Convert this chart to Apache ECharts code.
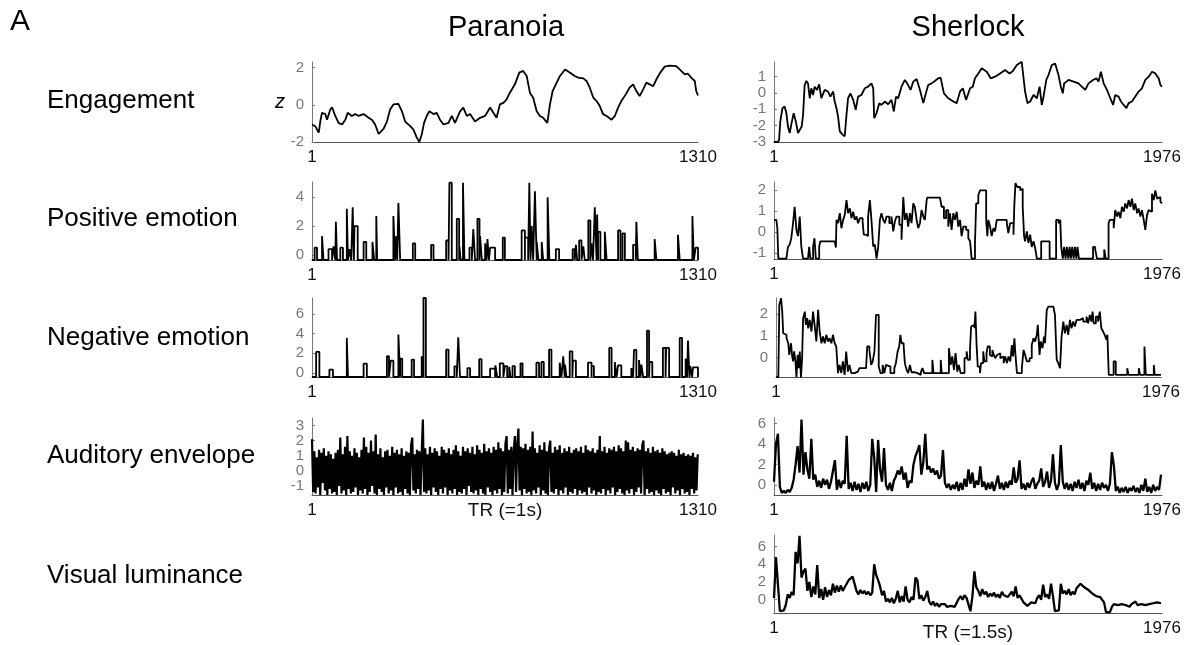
<!DOCTYPE html>
<html>
<head>
<meta charset="utf-8">
<script src="https://cdn.jsdelivr.net/npm/echarts@6/dist/echarts.min.js"></script>
<style>
  html, body { margin: 0; background: #fff; }
  #main { width: 1185px; height: 645px; }
</style>
</head>
<body>
<div id="main"></div>
<script>
// ---- data (TR index, z value) ----
const parN = 1310;
const sheN = 1976;

const parEngagement = [[1,-1.06],[12,-1.15],[24,-1.5],[29,-0.9],[35,-0.43],[46,-0.5],[52,-0.8],[63,-0.25],[69,-0.13],[80,-0.6],[91,-0.97],[103,-1.06],[114,-0.8],[122,-0.43],[136,-0.6],[148,-0.5],[159,-0.6],[176,-0.5],[193,-0.7],[204,-0.8],[215,-1.06],[227,-1.57],[244,-1.28],[255,-0.9],[266,-0.25],[277,0.02],[294,0.05],[306,-0.35],[317,-0.9],[334,-1.15],[345,-1.33],[356,-1.75],[365,-2.0],[373,-1.6],[381,-0.97],[390,-0.6],[399,-0.35],[413,-0.5],[424,-0.43],[435,-0.8],[447,-1.06],[464,-0.97],[475,-0.6],[486,-0.97],[503,-0.35],[514,-0.15],[526,-0.6],[537,-0.5],[554,-0.9],[571,-0.7],[588,-0.6],[605,-0.15],[616,-0.43],[627,-0.7],[638,0.02],[650,0.1],[661,0.29],[672,0.65],[689,1.1],[704,1.73],[717,1.82],[729,1.55],[740,0.65],[751,0.38],[763,-0.35],[774,-0.6],[785,-0.7],[799,-0.97],[808,0.02],[817,0.74],[828,1.1],[842,1.55],[859,1.9],[875,1.73],[892,1.55],[904,1.46],[921,1.42],[932,1.28],[943,0.92],[955,0.38],[966,0.2],[977,-0.07],[988,-0.5],[1000,-0.6],[1017,-0.8],[1028,-0.6],[1039,-0.15],[1050,0.2],[1065,0.56],[1078,0.92],[1090,1.1],[1101,0.74],[1112,0.47],[1124,0.83],[1135,1.19],[1146,1.1],[1158,1.0],[1169,1.37],[1182,1.73],[1197,2.05],[1214,2.1],[1236,2.08],[1248,1.9],[1265,1.64],[1276,1.67],[1287,1.46],[1299,1.28],[1304,0.74],[1310,0.5]];

const sheEngagement = [[1,-3],[21,-3],[27,-2.86],[33,-1.74],[44,-0.93],[55,-0.83],[64,-1.23],[72,-2.05],[81,-2.45],[89,-1.94],[101,-1.23],[112,-1.74],[123,-2.45],[132,-2.55],[142,-2.05],[149,-1.34],[157,0.49],[166,0.74],[174,0.59],[183,-0.32],[191,0.29],[200,-0.12],[208,0.39],[220,0.19],[231,0.53],[242,-0.32],[259,0.19],[276,0.09],[288,-0.22],[302,0.09],[310,-0.52],[319,-0.93],[327,-1.44],[336,-2.35],[350,-2.55],[361,-2.65],[370,-1.34],[378,-0.32],[390,-0.02],[404,-0.42],[417,-1.03],[429,-0.22],[446,-0.12],[463,0.29],[480,0.39],[497,0.59],[506,0.29],[511,-1.54],[523,-1.23],[537,-0.62],[548,-0.73],[565,-0.52],[582,-0.69],[599,-0.42],[611,-1.13],[622,-0.22],[633,-0.32],[650,0.39],[667,0.8],[684,0.49],[696,0.19],[710,0.7],[727,0.86],[744,0.19],[761,-0.62],[774,-0.02],[786,0.49],[803,0.59],[820,0.74],[837,0.9],[849,0.94],[866,-0.02],[888,-0.32],[914,-0.52],[931,-0.62],[948,0.09],[962,0.29],[979,-0.42],[999,0.29],[1013,0.39],[1024,0.9],[1041,1.2],[1058,1.51],[1084,1.3],[1104,0.9],[1126,1.0],[1152,1.2],[1177,1.41],[1200,1.2],[1217,1.35],[1237,1.71],[1262,1.91],[1279,0.09],[1291,-0.62],[1305,-0.52],[1322,-0.12],[1339,-0.32],[1353,0.39],[1364,-0.73],[1373,-0.22],[1387,0.8],[1398,1.1],[1415,1.71],[1432,1.81],[1449,1.1],[1461,0.39],[1471,-0.02],[1478,0.59],[1500,0.8],[1526,0.7],[1551,0.59],[1568,0.39],[1585,0.19],[1602,0.59],[1625,0.8],[1642,0.9],[1653,0.7],[1665,1.3],[1679,0.59],[1696,0.19],[1713,-0.32],[1727,-0.73],[1738,-0.12],[1755,-0.22],[1767,-0.52],[1781,-0.73],[1795,-0.93],[1806,-0.62],[1823,-0.52],[1840,-0.22],[1857,0.09],[1874,0.29],[1891,0.8],[1908,1.0],[1925,1.3],[1942,1.2],[1959,0.9],[1968,0.49],[1976,0.39]];

// Paranoia emotion ratings: [startTR, endTR, z] pulses above the resting level
const parPosRest = -0.35;
const parPositive = [[10,18,0.5],[35,40,1.3],[57,69,0.4],[74,80,0.6],[82,86,2.3],[97,106,0.5],[119,123,3.2],[128,134,0.4],[139,143,3.3],[145,156,2.0],[176,185,0.9],[206,212,0.9],[219,222,2.7],[277,283,2.7],[285,290,1.3],[294,300,3.6],[343,351,0.8],[405,413,0.7],[456,464,1.0],[467,475,5.0],[492,500,2.5],[501,505,0.6],[513,518,5.0],[535,543,0.5],[548,554,1.8],[562,569,2.5],[571,577,1.3],[588,593,0.8],[596,601,1.1],[605,622,0.5],[648,655,1.2],[712,723,1.7],[723,734,1.2],[738,742,5.0],[746,751,2.0],[757,763,4.4],[763,769,0.9],[780,785,0.9],[800,806,4.0],[828,839,0.4],[885,892,0.4],[896,900,0.7],[907,915,1.0],[921,926,0.6],[938,945,2.4],[949,954,0.8],[960,966,3.3],[968,971,2.8],[971,979,1.6],[994,1000,1.6],[1039,1047,1.7],[1054,1062,1.5],[1090,1099,0.7],[1101,1106,2.3],[1163,1169,1.1],[1242,1248,1.4],[1291,1296,2.7],[1302,1310,0.5]];

const parNegRest = -0.4;
const parNegative = [[15,26,2.14],[60,72,0.34],[119,123,3.56],[176,187,0.95],[255,262,1.7],[268,277,1.25],[294,300,3.9],[300,307,1.46],[339,347,1.36],[373,379,1.7],[379,387,7.6],[456,464,2.37],[484,492,0.68],[497,503,3.63],[528,537,0.5],[568,576,1.4],[605,622,0.44],[623,629,0.78],[638,650,0.98],[655,663,0.71],[670,674,0.64],[681,689,0.71],[708,715,0.98],[762,771,1.05],[779,787,1.12],[805,813,2.37],[841,847,1.05],[853,858,1.7],[859,864,0.85],[875,884,2.2],[886,896,1.25],[937,949,1.05],[949,957,0.71],[1009,1017,2.54],[1028,1034,1.12],[1039,1050,0.78],[1084,1090,0.5],[1093,1101,2.34],[1110,1115,1.32],[1118,1124,0.85],[1137,1144,4.3],[1146,1155,1.12],[1191,1200,2.54],[1202,1212,2.54],[1248,1256,3.56],[1268,1273,1.46],[1276,1281,3.29],[1284,1290,0.71],[1293,1310,0.58]];

// Sherlock emotion ratings: [TR, z] change points (value holds until the next one)
const shePositive = [[1,0.58],[13,0.58],[18,0.18],[23,-1.28],[64,-1.28],[72,-0.72],[81,-0.6],[89,-0.3],[98,0.42],[106,1.21],[115,0.1],[123,-0.2],[132,0.74],[140,-0.7],[149,-1.28],[174,-1.28],[180,-0.72],[186,-1.28],[200,-0.72],[207,-0.3],[214,-1.28],[231,-0.7],[237,-0.45],[310,-0.45],[316,-0.75],[319,0.58],[327,0.42],[336,0.9],[344,0.18],[353,0.58],[361,0.82],[370,1.53],[378,0.9],[387,1.13],[395,0.66],[404,0.97],[412,0.58],[421,0.74],[429,0.42],[438,0.66],[452,0.5],[458,-0.13],[469,-0.2],[480,0.74],[489,1.53],[497,0.58],[506,-0.7],[514,-0.6],[523,-1.28],[531,-0.75],[540,0.58],[548,0.9],[557,0.58],[565,0.42],[574,0.74],[588,0.42],[599,0.74],[608,0.03],[616,0.5],[625,0.74],[639,0.34],[650,-0.37],[659,1.68],[667,0.58],[676,0.9],[684,0.26],[693,0.9],[701,0.42],[710,1.37],[718,1.21],[727,0.58],[735,0.18],[744,0.42],[752,1.05],[761,0.74],[769,0.58],[778,1.53],[781,1.65],[846,1.65],[854,1.21],[866,0.66],[877,1.05],[888,0.26],[897,0.9],[905,0.1],[914,0.9],[922,0.58],[931,0.97],[939,0.26],[948,0.58],[956,-0.2],[965,0.26],[979,0.1],[990,-0.3],[999,-0.45],[1007,-1.28],[1024,-0.53],[1030,1.37],[1041,1.76],[1050,2.0],[1081,0.58],[1087,-0.2],[1092,0.58],[1101,0.26],[1109,-0.2],[1118,0.18],[1126,0.03],[1135,0.58],[1186,0.42],[1194,-0.05],[1203,0.42],[1220,-0.13],[1224,1.21],[1230,2.35],[1240,2.16],[1254,2.0],[1262,2.08],[1267,1.21],[1274,-0.2],[1279,-0.45],[1288,0.03],[1296,-0.53],[1305,-0.13],[1313,-0.72],[1322,-0.45],[1330,-0.75],[1339,-1.28],[1361,-0.45],[1404,-1.28],[1437,0.58],[1449,0.42],[1458,0.58],[1463,-0.7],[1471,-1.28],[1478,-0.72],[1485,-1.28],[1492,-0.72],[1499,-1.28],[1506,-0.72],[1512,-1.28],[1519,-0.72],[1526,-1.28],[1533,-0.72],[1540,-1.28],[1546,-0.72],[1553,-1.28],[1625,-0.72],[1636,-0.84],[1645,-1.28],[1682,-0.84],[1689,-1.28],[1704,0.42],[1710,0.58],[1730,0.18],[1738,1.05],[1747,0.74],[1755,0.97],[1764,0.66],[1772,1.21],[1781,0.97],[1789,1.37],[1798,1.13],[1806,1.53],[1815,1.21],[1823,1.6],[1832,1.05],[1840,1.37],[1849,0.9],[1857,1.13],[1866,0.74],[1874,1.05],[1883,0.58],[1891,0.1],[1900,0.82],[1908,1.05],[1917,0.97],[1925,1.84],[1934,1.53],[1942,2.0],[1951,1.6],[1959,1.68],[1968,1.45],[1976,1.37]];

const sheNegative = [[1,-0.91],[13,-0.91],[18,2.43],[27,2.74],[33,2.12],[38,1.12],[47,1.05],[55,0.89],[64,0.66],[69,0.12],[78,0.66],[84,0.05],[89,-0.18],[94,0.28],[101,-0.18],[106,-0.91],[112,0.12],[118,-0.49],[123,0.28],[129,-0.91],[135,-0.03],[140,1.82],[149,2.12],[154,1.51],[161,1.82],[166,1.35],[174,1.74],[183,1.2],[191,2.12],[200,1.43],[208,0.74],[217,2.2],[225,1.2],[234,0.66],[242,0.97],[251,0.66],[259,1.05],[268,0.74],[276,0.89],[285,0.66],[293,1.05],[302,0.66],[310,0.51],[319,-0.72],[327,-0.34],[336,-0.72],[344,-0.18],[353,-0.8],[361,0.28],[370,-0.65],[378,-0.34],[387,-0.72],[404,-0.65],[421,-0.72],[429,-0.49],[463,-0.49],[469,0.51],[480,0.35],[489,-0.34],[497,-0.18],[506,0.28],[514,1.97],[523,1.97],[528,-0.42],[537,-0.72],[548,-0.34],[557,-0.72],[565,-0.34],[574,-0.42],[588,-0.72],[608,-0.49],[616,-0.26],[625,0.28],[633,0.51],[639,1.05],[645,0.66],[656,0.51],[662,-0.26],[671,-0.57],[679,-0.72],[688,-0.34],[696,-0.68],[710,-0.72],[727,-0.8],[744,-0.68],[752,-0.49],[761,-0.72],[803,-0.11],[809,-0.72],[846,-0.11],[851,-0.72],[888,0.43],[897,-0.34],[905,0.05],[914,-0.57],[922,0.2],[931,-0.65],[939,-0.34],[948,-0.72],[968,-0.03],[979,0.28],[985,-0.11],[996,0.35],[1002,1.43],[1011,1.51],[1019,1.35],[1024,2.12],[1030,0.58],[1036,-0.42],[1047,-0.72],[1053,-0.26],[1064,0.28],[1070,-0.18],[1081,0.2],[1087,0.51],[1098,0.12],[1104,0.05],[1111,0.35],[1118,0.12],[1126,-0.03],[1135,0.12],[1143,0.2],[1152,-0.03],[1160,0.05],[1169,-0.26],[1177,0.05],[1186,-0.26],[1194,0.05],[1203,-0.18],[1211,0.58],[1217,0.05],[1224,0.89],[1230,0.05],[1237,-0.72],[1262,-0.49],[1271,0.35],[1279,0.12],[1288,-0.18],[1302,-0.03],[1313,0.58],[1322,0.89],[1330,0.74],[1339,1.05],[1344,1.51],[1353,0.12],[1359,0.74],[1368,0.43],[1376,0.97],[1381,0.66],[1390,2.2],[1398,2.35],[1424,2.35],[1432,1.97],[1441,-0.11],[1449,-0.26],[1458,-0.49],[1466,0.97],[1475,1.66],[1483,1.12],[1492,1.51],[1500,1.05],[1509,1.74],[1517,1.35],[1526,1.66],[1534,1.43],[1543,1.74],[1560,1.82],[1577,1.66],[1594,1.89],[1602,1.58],[1611,1.97],[1619,1.66],[1625,2.12],[1631,1.58],[1642,1.89],[1653,1.66],[1662,2.12],[1670,1.35],[1679,1.2],[1687,1.05],[1696,0.82],[1701,1.05],[1708,-0.8],[1733,-0.18],[1744,-0.8],[1803,-0.49],[1809,-0.8],[1862,-0.49],[1869,-0.8],[1891,0.51],[1898,-0.8],[1939,-0.34],[1944,-0.8],[1976,-0.8]];

// sensory regressors sampled every few TRs
const parAudStep = 4;
const parAuditory = [2.1,-1.4,1.3,-1.5,0.9,-1.1,1.4,-1.6,1.2,-0.8,1.5,-1.3,1.0,-1.6,1.3,-1.2,
  1.1,-1.5,0.8,-1.4,1.2,-1.6,1.4,-1.0,2.2,-1.5,1.1,-1.3,1.6,-1.6,2.3,-1.2,
  1.3,-1.5,1.0,-1.4,1.5,-1.1,1.2,-1.6,0.9,-1.3,1.4,-1.5,2.2,-1.2,1.6,-1.6,
  1.2,-1.4,2.0,-1.0,1.3,-1.5,2.4,-1.6,1.1,-1.2,1.5,-1.4,0.9,-1.6,1.3,-1.1,
  1.4,-1.5,1.0,-1.3,1.6,-1.6,1.2,-1.1,1.4,-1.5,1.1,-1.4,1.5,-1.6,1.0,-1.2,
  1.3,-1.5,1.2,-1.6,1.7,2.2,-1.3,1.1,-1.5,1.4,-1.2,1.3,-1.6,1.2,3.4,-1.4,
  1.5,-1.5,1.1,-1.3,1.6,-1.6,1.2,-1.1,1.5,-1.4,1.3,-1.6,1.0,-1.2,1.6,-1.5,
  1.4,-1.1,1.2,-1.6,1.5,-1.3,1.1,-1.5,1.4,-1.2,1.7,-1.6,1.3,-1.4,1.0,-1.5,
  1.6,-1.2,1.3,-1.6,1.5,-1.0,1.2,-1.4,1.6,-1.5,1.1,-1.3,1.7,-1.6,1.4,-1.2,
  1.2,-1.5,1.8,-1.6,1.3,-1.1,1.5,-1.4,1.2,-1.6,1.6,-1.3,1.4,-1.5,1.9,-1.2,
  1.5,-1.6,1.3,-1.4,1.8,2.3,-1.5,1.4,-1.2,1.6,-1.6,1.3,2.3,-1.4,1.7,2.8,
  -1.3,1.6,-1.6,1.5,-1.2,1.8,-1.5,1.4,-1.4,1.6,-1.6,2.6,-1.3,1.5,-1.5,1.2,
  -1.1,1.7,-1.6,1.4,-1.3,1.9,-1.5,1.3,-1.6,1.5,2.0,-1.4,1.2,-1.5,1.6,-1.2,
  1.4,-1.6,1.7,-1.3,1.2,-1.5,1.5,-1.1,1.3,-1.6,1.6,-1.4,1.2,-1.5,1.4,-1.2,
  1.5,-1.6,1.3,-1.3,1.6,-1.5,1.2,-1.4,1.7,-1.6,1.4,-1.1,1.3,-1.5,1.5,-1.3,
  1.2,-1.6,1.4,-1.4,2.3,-1.5,1.3,-1.2,1.6,-1.6,1.2,-1.3,1.5,-1.5,1.4,-1.1,
  1.6,-1.6,1.3,-1.4,1.7,-1.2,1.5,-1.5,1.3,-1.6,2.0,-1.3,1.9,-1.5,1.4,-1.2,
  1.6,-1.6,1.3,-1.4,1.5,-1.1,1.4,-1.5,1.7,2.0,-1.6,1.3,-1.2,1.5,-1.5,1.2,
  -1.4,1.6,-1.6,1.3,-1.3,1.4,-1.5,1.2,-1.6,1.5,-1.2,1.3,-1.5,1.1,-1.4,1.2,
  -1.6,1.3,-1.1,1.2,-1.5,1.0,-1.3,1.4,-1.6,1.1,-1.2,1.2,-1.5,1.0,-1.4,1.1,
  -1.6,1.0,-1.2,1.2,-1.5,0.9,-1.3,1.1];

const sheSenStep = 10;
const sheAuditory = [0.3,4.0,5.0,-0.2,-0.8,-0.6,-0.8,-0.5,-0.7,-0.3,
  0.5,2.0,3.8,1.2,6.4,1.0,3.2,1.5,0.6,4.5,
  0.5,1.0,-0.2,0.4,-0.3,0.6,0.0,0.5,-0.4,0.3,
  0.2,2.4,-0.5,0.5,-0.3,0.4,0.1,4.8,-0.4,0.2,
  -0.6,0.3,-0.5,0.1,-0.7,0.2,-0.4,0.3,-0.6,0.0,
  4.5,2.7,-0.7,4.4,1.5,0.3,3.6,0.0,-0.5,0.2,
  -0.6,0.4,0.8,1.4,1.0,1.8,0.5,1.2,-0.3,0.4,
  0.2,2.0,2.8,3.3,3.9,1.0,2.2,5.0,1.5,1.8,
  1.2,1.6,1.0,1.4,0.6,0.9,3.4,0.2,-0.3,0.1,
  -0.5,0.0,-0.4,0.3,-0.6,0.2,-0.5,0.6,-0.2,1.5,
  0.1,1.2,-0.3,0.4,0.0,1.8,-0.2,0.3,-0.5,0.2,
  -0.4,0.3,-0.6,0.1,0.9,-0.4,0.2,-0.5,0.3,-0.3,
  0.4,0.0,1.7,0.2,0.6,2.4,-0.4,0.1,-0.5,0.2,
  -0.3,0.3,0.7,-0.4,0.1,0.4,1.6,-0.2,0.3,1.3,
  -0.3,0.4,3.0,0.2,-0.5,0.1,3.9,0.3,-0.4,0.2,
  -0.5,0.1,-0.6,0.3,-0.3,0.5,-0.4,0.2,-0.6,0.4,
  0.0,1.2,-0.4,0.2,-0.6,0.1,-0.5,0.2,-0.3,0.0,
  -0.6,0.1,3.2,1.9,-0.6,-0.2,-0.8,-0.3,-0.7,-0.2,
  -0.8,-0.3,-0.6,-0.1,-0.7,-0.3,-0.8,0.0,-0.6,0.6,
  -0.7,-0.2,-0.8,0.0,-0.6,-0.2,-0.5,1.0];

const sheVisual = [0.2,4.8,4.6,-1.3,-1.4,-1.2,-0.6,0.6,0.2,0.9,
  0.5,5.4,4.1,7.2,2.5,3.2,3.5,1.0,2.0,0.3,
  1.5,0.6,3.9,0.2,1.2,0.0,1.4,0.3,1.1,0.5,
  1.8,0.8,1.6,0.9,1.6,1.0,1.4,1.8,2.2,2.0,
  2.6,2.8,1.0,0.6,1.1,0.7,1.0,0.6,0.9,0.5,
  0.8,4.0,2.8,2.2,1.5,0.5,1.0,-0.2,0.1,-0.3,
  0.2,-0.4,0.1,1.0,-0.3,0.4,-0.2,1.5,0.0,-0.3,
  0.3,0.0,2.5,2.2,0.1,0.5,-0.1,0.3,1.0,-0.2,
  -0.6,-0.2,-0.7,-0.4,-0.8,-0.5,-0.7,-0.5,-0.8,-0.6,
  -0.7,-0.5,-0.8,-0.6,0.1,0.4,0.0,0.5,0.2,0.3,
  -1.3,0.4,3.2,1.4,1.0,0.4,1.2,0.6,0.9,0.3,
  0.7,0.4,0.8,0.3,0.6,0.2,0.9,0.5,0.7,0.3,
  0.6,0.9,0.4,1.5,0.2,0.5,0.3,-0.3,-0.5,-0.7,
  -0.6,-0.3,-0.5,-0.4,0.2,0.5,0.0,1.7,0.3,0.6,
  0.1,1.8,0.4,-1.3,-1.4,-1.2,1.8,0.7,1.0,0.6,
  1.2,0.5,0.9,0.6,1.3,1.5,1.8,2.0,1.4,1.6,
  1.1,0.9,0.7,0.8,0.4,0.6,0.3,0.5,-0.3,-1.4,
  -1.3,-1.4,-0.8,-0.5,-0.7,-0.6,-0.8,-0.5,-0.7,-0.6,
  -0.6,-0.8,-0.5,-0.7,-0.2,-0.6,-0.8,-0.5,-0.7,-0.6,
  -0.8,-0.5,-0.7,-0.4,-0.6,-0.3,-0.5,-0.4];

const rowLabels = ['Engagement', 'Positive emotion', 'Negative emotion', 'Auditory envelope', 'Visual luminance'];
const movies = ['Paranoia', 'Sherlock'];

// pulses -> stair points
function pulses(list, rest, n) {
  var pts = [[1, rest]];
  list.forEach(function (p) {
    pts.push([p[0], p[2]]);
    pts.push([p[1], rest]);
  });
  pts.push([n, rest]);
  return pts;
}
function sampled(vals, step, n) {
  return vals.map(function (v, i) { return [Math.min(1 + i * step, n), v]; });
}

// layout of the nine panels: [left, top, width, height]
const panels = [
  { box: [312, 62, 386, 80], n: parN, y: [-2, 2.3], ticks: [-2, 0, 2], data: parEngagement },
  { box: [774, 62, 388, 80], n: sheN, y: [-3, 1.9], ticks: [-3, -2, -1, 0, 1], data: sheEngagement },
  { box: [312, 182, 386, 78], n: parN, y: [-0.35, 5.05], ticks: [0, 2, 4], data: pulses(parPositive, parPosRest, parN), step: 'end' },
  { box: [774, 182, 388, 77], n: sheN, y: [-1.3, 2.4], ticks: [-1, 0, 1, 2], data: shePositive, step: 'end' },
  { box: [312, 298, 386, 79], n: parN, y: [-0.4, 7.6], ticks: [0, 2, 4, 6], data: pulses(parNegative, parNegRest, parN), step: 'end' },
  { box: [776, 298, 385, 79], n: sheN, y: [-0.9, 2.75], ticks: [0, 1, 2], data: sheNegative, step: 'end' },
  { box: [312, 418, 386, 77], n: parN, y: [-1.6, 3.5], ticks: [-1, 0, 1, 2, 3], data: sampled(parAuditory, parAudStep, parN), name: 'TR (=1s)', gap: 6, width: 2.2 },
  { box: [774, 418, 388, 77], n: sheN, y: [-1, 6.55], ticks: [0, 2, 4, 6], data: sampled(sheAuditory, sheSenStep, sheN), width: 2.3 },
  { box: [774, 535, 388, 78], n: sheN, y: [-1.5, 7.3], ticks: [0, 2, 4, 6], data: sampled(sheVisual, sheSenStep, sheN), name: 'TR (=1.5s)', gap: 10, width: 2.3 }
];

const FONT = '"Liberation Sans", Arial, Helvetica, sans-serif';

var grids = [], xAxes = [], yAxes = [], series = [];
panels.forEach(function (p, i) {
  grids.push({ left: p.box[0], top: p.box[1], width: p.box[2], height: p.box[3], containLabel: false, outerBoundsMode: 'none' });
  xAxes.push({
    type: 'value', gridIndex: i, min: 1, max: p.n,
    axisLine: { show: true, onZero: false, lineStyle: { color: '#555', width: 1 } },
    axisTick: { show: false },
    splitLine: { show: false },
    axisLabel: { customValues: [1, p.n], formatter: function (v) { return String(v); }, color: '#111', fontSize: 17, fontFamily: FONT, margin: 7 },
    name: p.name || '', nameLocation: 'middle', nameGap: p.gap || 6, nameMoveOverlap: false,
    nameTextStyle: { color: '#111', fontSize: 19, fontFamily: FONT, verticalAlign: 'top' }
  });
  yAxes.push({
    type: 'value', gridIndex: i, min: p.y[0], max: p.y[1],
    axisLine: { show: true, onZero: false, lineStyle: { color: '#777', width: 1 } },
    axisTick: { show: true, inside: true, length: 3, customValues: p.ticks, lineStyle: { color: '#777' } },
    splitLine: { show: false },
    axisLabel: { customValues: p.ticks, color: '#777', fontSize: 15, fontFamily: FONT, margin: 8 }
  });
  series.push({
    type: 'line', xAxisIndex: i, yAxisIndex: i, data: p.data,
    step: p.step || false, showSymbol: false, symbol: 'none', smooth: false,
    sampling: null, animation: false, silent: true, clip: true,
    lineStyle: { color: '#000', width: p.width || 1.8 }
  });
});

var graphics = [
  { type: 'text', x: 10, y: 22, style: { text: 'A', font: '30px ' + FONT, fill: '#000', align: 'left', verticalAlign: 'middle' } },
  { type: 'text', x: 506, y: 28, style: { text: movies[0], font: '29px ' + FONT, fill: '#000', align: 'center', verticalAlign: 'middle' } },
  { type: 'text', x: 968, y: 28, style: { text: movies[1], font: '29px ' + FONT, fill: '#000', align: 'center', verticalAlign: 'middle' } },
  { type: 'text', x: 280, y: 102, style: { text: 'z', font: 'italic 20px ' + FONT, fill: '#000', align: 'center', verticalAlign: 'middle' } }
];
var rowY = [101, 219, 338, 456, 576];
rowLabels.forEach(function (t, i) {
  graphics.push({ type: 'text', x: 47, y: rowY[i], style: { text: t, font: '26px ' + FONT, fill: '#000', align: 'left', verticalAlign: 'middle' } });
});

var chart = echarts.init(document.getElementById('main'), null, { renderer: 'canvas' });
chart.setOption({
  animation: false,
  backgroundColor: '#fff',
  grid: grids,
  xAxis: xAxes,
  yAxis: yAxes,
  series: series,
  graphic: graphics
});
</script>
</body>
</html>
